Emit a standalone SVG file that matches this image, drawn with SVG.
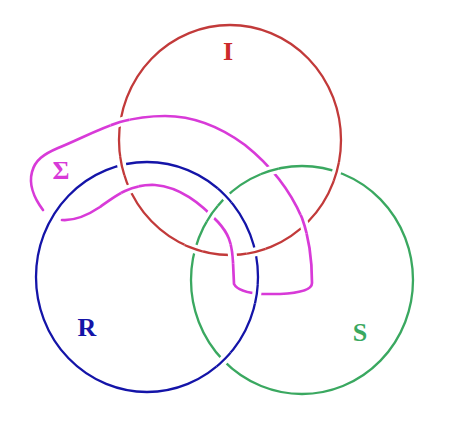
<svg xmlns="http://www.w3.org/2000/svg" xmlns:xlink="http://www.w3.org/1999/xlink" width="449" height="426" viewBox="0 0 449 426">
<style>
.ln{fill:none;stroke-linecap:round}
.red{stroke:#c23a3a;stroke-width:2.3}
.blue{stroke:#1414a8;stroke-width:2.3}
.green{stroke:#3aa860;stroke-width:2.3}
.mag{stroke:#d83ad8;stroke-width:2.7}
.halo{fill:none;stroke:#ffffff;stroke-width:9}
.lbl{font-family:"Liberation Serif","Times New Roman",serif;font-weight:bold;font-size:26px;text-anchor:middle}
</style>
<defs>
<ellipse id="cI" cx="230" cy="140" rx="111" ry="115"/>
<ellipse id="cR" cx="147" cy="277" rx="111" ry="115"/>
<ellipse id="cS" cx="302" cy="280" rx="111" ry="114"/>
<path id="band" d="M43,210 C33,197 29,183 32,172 C35,160 44,154 58,148 C78,140 98,129 120,122 C135,118 150,116 165,116 C195,116 222,128 245,145 C270,165 290,190 302,218 C310,240 312,260 312,283 C312,290 300,293 280,294 L262,294 C248,293 237,290 234,284 L233,262 C232,242 228,233 218,222 C200,203 180,187 155,185 C130,184 115,196 100,207 C88,215 75,221 62,220"/>
<clipPath id="x1"><circle cx="120" cy="122" r="10"/></clipPath>
<clipPath id="x2"><circle cx="121" cy="166" r="10"/></clipPath>
<clipPath id="x3"><circle cx="129" cy="187" r="10"/></clipPath>
<clipPath id="x4"><circle cx="224" cy="196" r="10"/></clipPath>
<clipPath id="x5"><circle cx="211" cy="213" r="10"/></clipPath>
<clipPath id="x6"><circle cx="269" cy="169" r="10"/></clipPath>
<clipPath id="x7"><circle cx="304" cy="224" r="10"/></clipPath>
<clipPath id="x8"><circle cx="232" cy="254" r="10"/></clipPath>
<clipPath id="x9"><circle cx="256" cy="250" r="10"/></clipPath>
<clipPath id="x10"><circle cx="194" cy="247" r="10"/></clipPath>
<clipPath id="x11"><circle cx="338" cy="172" r="10"/></clipPath>
<clipPath id="x12"><circle cx="257" cy="294" r="10"/></clipPath>
<clipPath id="x13"><circle cx="224" cy="360" r="10"/></clipPath>
</defs>
<rect width="449" height="426" fill="#ffffff"/>
<g id="circle-I"><use href="#cI" class="ln red"/></g>
<g id="circle-R"><use href="#cR" class="ln blue"/></g>
<g id="circle-S"><use href="#cS" class="ln green"/></g>
<g id="band-Sigma"><use href="#band" class="ln mag"/></g>
<g id="crossings">
<g clip-path="url(#x1)"><use href="#band" class="halo"/><use href="#band" class="ln mag"/></g>
<g clip-path="url(#x2)"><use href="#cI" class="halo"/><use href="#cI" class="ln red"/></g>
<g clip-path="url(#x3)"><use href="#band" class="halo"/><use href="#band" class="ln mag"/></g>
<g clip-path="url(#x4)"><use href="#cR" class="halo"/><use href="#cR" class="ln blue"/></g>
<g clip-path="url(#x5)"><use href="#cS" class="halo"/><use href="#cS" class="ln green"/></g>
<g clip-path="url(#x6)"><use href="#cS" class="halo"/><use href="#cS" class="ln green"/></g>
<g clip-path="url(#x7)"><use href="#band" class="halo"/><use href="#band" class="ln mag"/></g>
<g clip-path="url(#x8)"><use href="#band" class="halo"/><use href="#band" class="ln mag"/></g>
<g clip-path="url(#x9)"><use href="#cI" class="halo"/><use href="#cI" class="ln red"/></g>
<g clip-path="url(#x10)"><use href="#cI" class="halo"/><use href="#cI" class="ln red"/></g>
<g clip-path="url(#x11)"><use href="#cI" class="halo"/><use href="#cI" class="ln red"/></g>
<g clip-path="url(#x12)"><use href="#cR" class="halo"/><use href="#cR" class="ln blue"/></g>
<g clip-path="url(#x13)"><use href="#cR" class="halo"/><use href="#cR" class="ln blue"/></g>
</g>
<g id="labels">
<text class="lbl" x="228" y="60" fill="#cc2a2a">I</text>
<text class="lbl" x="61" y="179" fill="#d83ad8">Σ</text>
<text class="lbl" x="87" y="336" fill="#1414a8">R</text>
<text class="lbl" x="360" y="341" fill="#3aa860">S</text>
</g>
</svg>
